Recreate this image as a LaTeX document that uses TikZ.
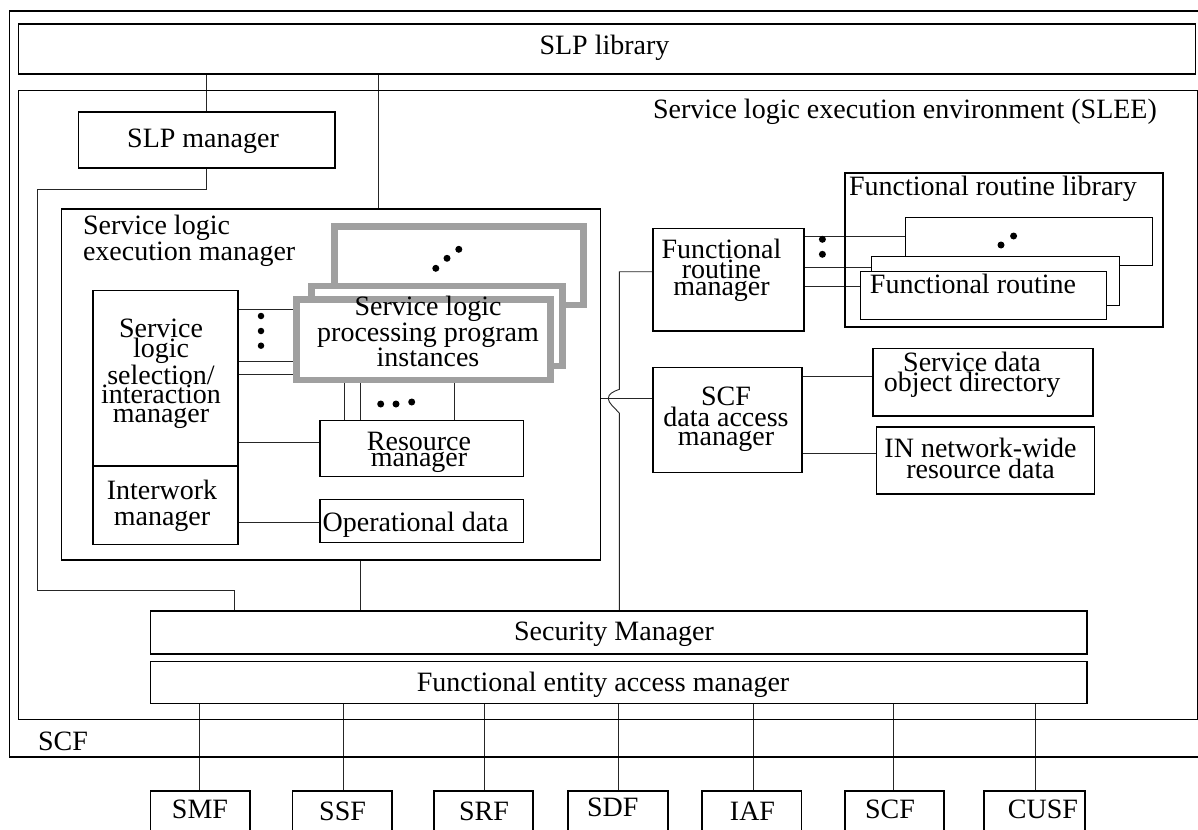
\documentclass[tikz,border=0pt]{standalone}
\usepackage{fontspec}
\setmainfont{Liberation Serif}
\usetikzlibrary{backgrounds}
\definecolor{slgray}{RGB}{160,160,160}
\newcommand\bxat[6][]{\node[bx,#1,minimum width={#5-#3},minimum height={#6-#4}] (#2) at (#3,#4) {};}
\begin{document}
\begin{tikzpicture}[x=1pt,y=-1pt,
  bx/.style={draw, line width=1.4pt, fill=white, inner sep=0pt, outer sep=0pt, anchor=north west},
  cont/.style={fill=none, line width=1.6pt},
  thinbx/.style={line width=0.9pt},
  slpbx/.style={draw=slgray, line width=6.7pt},
  lbl/.style={inner sep=0pt, outer sep=0pt, font=\fontsize{28}{22}\selectfont, anchor=base},
  con/.style={line width=0.9pt, draw=black!85},
  blob/.style={circle, fill=black, inner sep=0pt, minimum size=7pt}]
\clip (0,0) rectangle (1198,829);
% containers
\bxat[cont]{scf}{9.6}{11}{1250}{756.7}
\node[lbl] (scflbl) at (63,750.7) {SCF};
\bxat[line width=1.2pt]{slplib}{18.4}{24}{1195.7}{74}
\node[lbl] (slpliblbl) at (604.5,55) {SLP library};
\bxat[cont]{slee}{18.4}{90.7}{1197.3}{719.3}
\node[lbl, anchor=base west] (sleelbl) at (653,118.3) {Service logic execution environment (SLEE)};
\bxat[line width=1.6pt]{slpm}{78.5}{112}{335}{168}
\node[lbl] (slpmlbl) at (203,147.3) {SLP manager};
% SLEM
\bxat[cont, line width=1.8pt]{slem}{61.5}{209}{600.5}{560}
\node[lbl, anchor=base west, align=left, font=\fontsize{28}{18.3}\selectfont] (slemlbl) at (83,260) {Service logic\\execution manager};
\bxat[slpbx]{spb}{334.5}{226.3}{583.7}{305}
\node[blob] (spbd1) at (435.8,268.3) {};
\node[blob] (spbd2) at (447,258.3) {};
\node[blob] (spbd3) at (458.8,249.3) {};
\bxat[slpbx]{spm}{311.7}{286}{562.7}{366}
\bxat[slpbx]{spf}{296.7}{299.3}{550.7}{380}
\node[lbl, align=center, font=\fontsize{28}{22.5}\selectfont] (spflbl) at (428,366.7) {Service logic\\processing program\\instances};
\bxat{slsim}{92.9}{290.7}{238}{466}
\node[lbl, align=center, font=\fontsize{28}{19.3}\selectfont] (slsimlbl) at (161,422.9) {Service\\logic\\selection/\\interaction\\manager};
\bxat{iwm}{92.9}{466}{238}{544.3}
\node[lbl, align=center, font=\fontsize{28}{25.7}\selectfont] (iwmlbl) at (162,525) {Interwork\\manager};
\node[blob, minimum size=6.5pt] (vd1) at (261,316) {};
\node[blob, minimum size=6.5pt] (vd2) at (261,331) {};
\node[blob, minimum size=6.5pt] (vd3) at (261,345.7) {};
\bxat{rm}{320}{420.7}{523.5}{476.7}
\node[lbl, align=center, font=\fontsize{28}{16.7}\selectfont] (rmlbl) at (419,466.7) {Resource\\manager};
\node[blob] (hd1) at (380.7,404) {};
\node[blob] (hd2) at (396,404) {};
\node[blob] (hd3) at (411.7,402) {};
\bxat{od}{320}{499.3}{523.5}{542.7}
\node[lbl] (odlbl) at (415.5,531.7) {Operational data};
% right side
\bxat[line width=1.6pt]{frm}{653}{228.3}{804}{331}
\node[lbl, align=center, font=\fontsize{28}{16.7}\selectfont] (frmlbl) at (721.5,295.1) {Functional\\routine\\manager};
\bxat[line width=1.6pt]{dam}{653}{367.3}{802}{472.3}
\node[lbl, align=center, font=\fontsize{28}{19.3}\selectfont] (damlbl) at (726,445.3) {SCF\\data access\\manager};
\bxat[cont, line width=1.8pt]{frl}{845}{172.7}{1162.6}{326.7}
\node[lbl, anchor=base west] (frllbl) at (849,195) {Functional routine library};
\bxat[thinbx]{frb}{905.2}{217.3}{1152.7}{265.3}
\node[blob] (frd1) at (1001,245) {};
\node[blob] (frd2) at (1013.6,236) {};
\bxat[thinbx]{frmid}{871.7}{256.7}{1119.2}{305}
\bxat[thinbx]{frf}{860}{271.7}{1106.2}{319.3}
\node[lbl] (frflbl) at (973,293.3) {Functional routine};
\node[blob] (fvd1) at (822.4,239.3) {};
\node[blob] (fvd2) at (822.4,254.3) {};
\bxat[line width=1.6pt]{sdod}{872.9}{348.3}{1093.2}{415.7}
\node[lbl, align=center, font=\fontsize{28}{16.7}\selectfont] (sdodlbl) at (972,391.7) {Service data\\object directory};
\bxat[line width=1.6pt]{innw}{876.4}{426.7}{1094.4}{494}
\node[lbl, align=center, font=\fontsize{28}{16.7}\selectfont] (innwlbl) at (980.5,478.4) {IN network-wide\\resource data};
% bottom
\bxat[line width=1.2pt]{sm}{150.5}{611}{1087}{654}
\node[lbl] (smlbl) at (614,640) {Security Manager};
\bxat[line width=1.2pt]{feam}{150.5}{661.7}{1087}{703.3}
\node[lbl] (feamlbl) at (603,691.5) {Functional entity access manager};
\bxat[line width=1.6pt]{smf}{150.5}{790.7}{249.8}{845}
\node[lbl] (smflbl) at (200,818.3) {SMF};
\bxat[line width=1.6pt]{ssf}{292.6}{790.7}{392}{845}
\node[lbl] (ssflbl) at (342.6,820) {SSF};
\bxat[line width=1.6pt]{srf}{434}{790.7}{533}{845}
\node[lbl] (srflbl) at (484,820) {SRF};
\bxat[line width=1.6pt]{sdf}{568}{790.7}{668}{845}
\node[lbl] (sdflbl) at (612.7,816) {SDF};
\bxat[line width=1.6pt]{iaf}{702}{790.7}{801.4}{845}
\node[lbl] (iaflbl) at (752.5,820) {IAF};
\bxat[line width=1.6pt]{scfb}{845}{790.7}{944}{845}
\node[lbl] (scfblbl) at (890,818.3) {SCF};
\bxat[line width=1.6pt]{cusf}{984}{790.7}{1085}{845}
\node[lbl] (cusflbl) at (1043,818.3) {CUSF};
% connectors
\begin{scope}[on background layer]
\fill[white] (0,0) rectangle (1198,829);
\draw[con] (slplib.south -| slpm.north) -- (slpm.north);
\draw[con] (slplib.south -| 378,0) -- (slem.north -| 378,0);
\draw[con] (slpm.south) -- (206.75,189) -- (37.5,189) -- (37.5,590.7) -- (234.5,590.7) -- (sm.north -| 234.5,0);
\draw[con] (slsim.east |- 0,309) -- (spf.west |- 0,309);
\draw[con] (slsim.east |- 0,361.7) -- (spf.west |- 0,361.7);
\draw[con] (slsim.east |- 0,374) -- (spf.west |- 0,374);
\draw[con] (slsim.east |- 0,442.3) -- (rm.west |- 0,442.3);
\draw[con] (spf.south -| 344,0) -- (rm.north -| 344,0);
\draw[con] (spf.south -| 360.4,0) -- (rm.north -| 360.4,0);
\draw[con] (spf.south -| 454,0) -- (rm.north -| 454,0);
\draw[con] (iwm.east |- 0,522.7) -- (od.west |- 0,522.7);
\draw[con] (slem.south -| 360.4,0) -- (sm.north -| 360.4,0);
\draw[con] (frm.west |- 0,271.7) -- (619.4,271.7) -- (619.4,389.3)
  .. controls (613,391.5) and (608.3,394) .. (608.3,398.5)
  .. controls (608.3,403) and (614,407) .. (619.4,413.3) -- (sm.north -| 619.4,0);
\draw[con] (slem.east |- 0,398.5) -- (dam.west |- 0,398.5);
\draw[con] (frm.east |- 0,236) -- (frb.west |- 0,236);
\draw[con] (frm.east |- 0,267.7) -- (frmid.west |- 0,267.7);
\draw[con] (frm.east |- 0,286.7) -- (frf.west |- 0,286.7);
\draw[con] (dam.east |- 0,376.7) -- (sdod.west |- 0,376.7);
\draw[con] (dam.east |- 0,453.3) -- (innw.west |- 0,453.3);
\draw[con] (feam.south -| 199.4,0) -- (smf.north -| 199.4,0);
\draw[con] (feam.south -| 343.8,0) -- (ssf.north -| 343.8,0);
\draw[con] (feam.south -| 484.3,0) -- (srf.north -| 484.3,0);
\draw[con] (feam.south -| 618.8,0) -- (sdf.north -| 618.8,0);
\draw[con] (feam.south -| 753.2,0) -- (iaf.north -| 753.2,0);
\draw[con] (feam.south -| 893.8,0) -- (scfb.north -| 893.8,0);
\draw[con] (feam.south -| 1035,0) -- (cusf.north -| 1035,0);
\end{scope}
\end{tikzpicture}
\end{document}
